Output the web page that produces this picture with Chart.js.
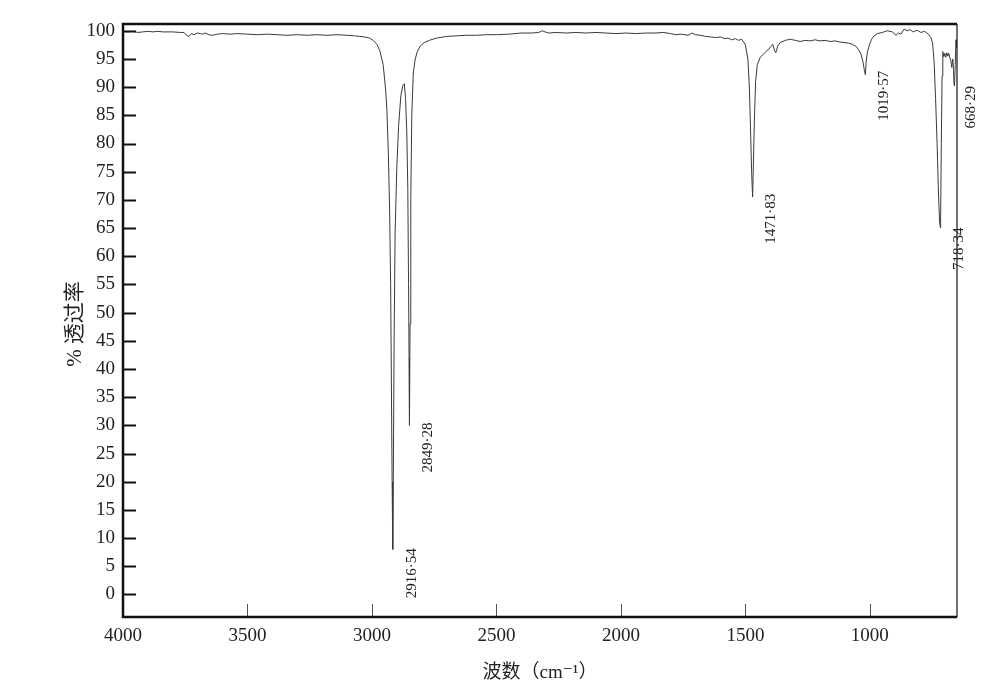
<!DOCTYPE html>
<html>
<head>
<meta charset="utf-8">
<script src="https://cdn.jsdelivr.net/npm/chart.js@4.4.1/dist/chart.umd.min.js"></script>
<style>
  html, body { margin: 0; padding: 0; background: #fff; }
  canvas { display: block; }
</style>
</head>
<body>
<canvas id="irChart" width="990" height="699"></canvas>
<script>
// ===== IR SPECTRUM =====
const waveNumbers = [
    4000, 3980, 3960, 3940, 3920, 3900, 3880, 3860, 3840, 3800, 3770, 3755, 3745, 3735, 3725, 3715, 3700, 3690, 3680, 3670,
    3655, 3640, 3620, 3600, 3570, 3540, 3500, 3460, 3420, 3380, 3340, 3300, 3260, 3220, 3180, 3140, 3100, 3070, 3050,
    3030, 3010, 2995, 2980, 2968, 2955, 2945, 2940, 2934, 2929, 2925, 2922, 2919, 2916.5, 2914, 2911, 2907, 2900, 2893,
    2884, 2876, 2870, 2865, 2860, 2856, 2853, 2851, 2849.3, 2847, 2844, 2840, 2834, 2826, 2818, 2806, 2790, 2770, 2740,
    2700, 2660, 2620, 2580, 2540, 2500, 2450, 2400, 2360, 2330, 2316, 2305, 2290, 2260, 2220, 2180, 2140, 2100, 2060,
    2020, 1980, 1940, 1900, 1860, 1830, 1800, 1780, 1760, 1730, 1715, 1700, 1680, 1660, 1640, 1620, 1600, 1585, 1570,
    1555, 1540, 1528, 1515, 1500, 1490, 1484, 1479, 1475, 1471, 1468, 1464, 1459, 1452, 1440, 1420, 1405, 1390, 1382,
    1378, 1370, 1360, 1340, 1320, 1300, 1280, 1260, 1240, 1220, 1200, 1180, 1160, 1140, 1120, 1100, 1085, 1070, 1055,
    1045, 1035, 1028, 1022, 1018, 1015, 1010, 1001, 993, 983, 970, 950, 930, 910, 895, 885, 875, 862, 850, 840, 825,
    810, 795, 780, 765, 755, 748, 742, 736, 730, 725, 720, 716, 713, 710, 707, 703, 699, 695, 691, 687, 683, 679, 675,
    671, 667, 664, 662, 660, 657, 654, 651
];
const transmittance = [
    99.9, 99.8, 99.9, 99.7, 99.8, 99.9, 99.8, 99.9, 99.8, 99.8, 99.7, 99.7, 99.2, 99.0, 99.5, 99.3, 99.6, 99.5, 99.4, 99.6,
    99.3, 99.2, 99.4, 99.5, 99.4, 99.5, 99.4, 99.3, 99.4, 99.3, 99.2, 99.3, 99.2, 99.3, 99.2, 99.3, 99.2, 99.1, 99.0,
    98.9, 98.7, 98.3, 97.6, 96.4, 94.0, 89.5, 86.0, 78.0, 68.0, 55.0, 38.0, 20.0, 8.0, 22.0, 45.0, 64.0, 76.0, 83.0,
    88.5, 90.3, 90.6, 88.0, 82.0, 72.0, 55.0, 42.0, 30.0, 48.0, 70.0, 85.0, 92.5, 95.0, 96.3, 97.3, 97.9, 98.3, 98.7,
    99.0, 99.1, 99.2, 99.2, 99.3, 99.3, 99.4, 99.6, 99.6, 99.7, 100.0, 99.8, 99.6, 99.7, 99.6, 99.7, 99.6, 99.7, 99.6,
    99.5, 99.6, 99.5, 99.6, 99.6, 99.7, 99.5, 99.3, 99.4, 99.2, 99.6, 99.3, 99.2, 99.0, 98.9, 98.8, 98.9, 98.6, 98.7,
    98.4, 98.6, 98.3, 98.5, 97.5, 95.0, 90.0, 82.0, 75.0, 70.5, 76.0, 84.0, 91.0, 94.0, 95.3, 96.2, 96.8, 97.6, 96.4,
    96.1, 97.3, 97.9, 98.3, 98.5, 98.3, 98.1, 98.3, 98.2, 98.4, 98.2, 98.3, 98.1, 98.2, 98.0, 97.9, 97.8, 97.6, 97.2,
    96.6, 95.8, 94.5, 93.0, 92.2, 94.5, 96.2, 97.6, 98.5, 99.1, 99.5, 99.7, 100.0, 99.8, 99.2, 99.6, 99.4, 100.3, 100.0, 100.2, 99.8,
    100.1, 99.7, 99.9, 99.4, 98.8, 97.8, 94.5, 88.0, 80.0, 72.0, 66.0, 65.0, 80.0, 92.0, 96.3, 95.4, 96.0, 95.3, 96.1, 95.5, 96.0, 95.2, 94.8, 93.5,
    95.0, 93.0, 90.5, 90.2, 94.0, 98.4, 97.0, 98.2
];

// axis ticks
const xTickValues = [4000, 3500, 3000, 2500, 2000, 1500, 1000];
const yTickValues = [0, 5, 10, 15, 20, 25, 30, 35, 40, 45, 50, 55, 60, 65, 70, 75, 80, 85, 90, 95, 100];

// peak annotations
const peakWn = [2916.54, 2849.28, 1471.83, 1019.57, 718.34, 668.29];
const peakT = [8.2, 30.5, 71.1, 92.9, 65.1, 90.2];
const peakLabels = ['2916·54', '2849·28', '1471·83', '1019·57', '718·34', '668·29'];

const xTitle = '波数（cm⁻¹）';
const yTitle = '% 透过率';

const SERIF = "'Liberation Serif', 'DejaVu Serif', 'Noto Sans CJK SC', serif";

const framePlugin = {
    id: 'frame',
    afterDraw(chart) {
        const g = chart.ctx;
        const a = chart.chartArea;
        const xs = chart.scales.x, ys = chart.scales.y;
        g.save();
        // inward ticks
        g.strokeStyle = '#111';
        g.lineWidth = 2;
        yTickValues.forEach(v => {
            const y = Math.round(ys.getPixelForValue(v)) + 0.5;
            g.beginPath(); g.moveTo(a.left, y); g.lineTo(a.left + 13, y); g.stroke();
        });
        g.strokeStyle = '#555';
        g.lineWidth = 1;
        xTickValues.forEach(v => {
            const x = Math.round(xs.getPixelForValue(v)) + 0.5;
            if (x <= a.left + 2) return;
            g.beginPath(); g.moveTo(x, a.bottom); g.lineTo(x, a.bottom - 13); g.stroke();
        });
        // frame
        g.strokeStyle = '#111';
        g.lineWidth = 2.5;
        g.beginPath();
        g.moveTo(a.right, a.top); g.lineTo(a.left, a.top); g.lineTo(a.left, a.bottom); g.lineTo(a.right, a.bottom);
        g.stroke();
        g.lineWidth = 1.2;
        g.beginPath(); g.moveTo(a.right, a.top); g.lineTo(a.right, a.bottom); g.stroke();

        // peak labels
        g.fillStyle = '#222';
        g.font = '15px ' + SERIF;
        g.textAlign = 'right';
        g.textBaseline = 'middle';
        peakWn.forEach((w, i) => {
            const x = xs.getPixelForValue(w) + 19;
            const y = ys.getPixelForValue(peakT[i]);
            g.save();
            g.translate(x, y);
            g.rotate(-Math.PI / 2);
            g.fillText(peakLabels[i], 0, 0);
            g.restore();
        });

        // axis titles
        g.fillStyle = '#222';
        g.textAlign = 'center';
        g.textBaseline = 'middle';
        g.font = '19px ' + SERIF;
        g.fillText(xTitle, (a.left + a.right) / 2, 673);
        g.save();
        g.translate(75, 324);
        g.rotate(-Math.PI / 2);
        g.font = '21px ' + SERIF;
        g.fillText(yTitle, 0, 0);
        g.restore();
        g.restore();
    }
};

function initIrChart() {
    const ctx = document.getElementById('irChart');
    if (!ctx) return;
    new Chart(ctx, {
        type: 'line',
        data: {
            datasets: [{
                data: waveNumbers.map((w, i) => ({ x: w, y: transmittance[i] })),
                borderColor: '#3a3a3a', borderWidth: 1, pointRadius: 0, tension: 0, fill: false
            }]
        },
        options: {
            responsive: false, animation: false,
            layout: { padding: { top: 24, right: 33, left: 0, bottom: 0 } },
            plugins: { legend: { display: false }, tooltip: { enabled: false } },
            scales: {
                x: {
                    type: 'linear', reverse: true, min: 650, max: 4000,
                    afterBuildTicks: s => { s.ticks = xTickValues.map(v => ({ value: v })); },
                    afterFit: s => { s.height = 82; },
                    grid: { display: false, drawTicks: false },
                    border: { display: false },
                    ticks: { padding: 8, color: '#222', font: { family: SERIF, size: 19 }, maxRotation: 0, callback: v => String(v) }
                },
                y: {
                    min: -4, max: 101.2,
                    afterBuildTicks: s => { s.ticks = yTickValues.map(v => ({ value: v })); },
                    afterFit: s => { s.width = 123; },
                    grid: { display: false, drawTicks: false },
                    border: { display: false },
                    ticks: { padding: 8, color: '#222', font: { family: SERIF, size: 19 }, callback: v => String(v) }
                }
            }
        },
        plugins: [framePlugin]
    });
}

initIrChart();
</script>
</body>
</html>
